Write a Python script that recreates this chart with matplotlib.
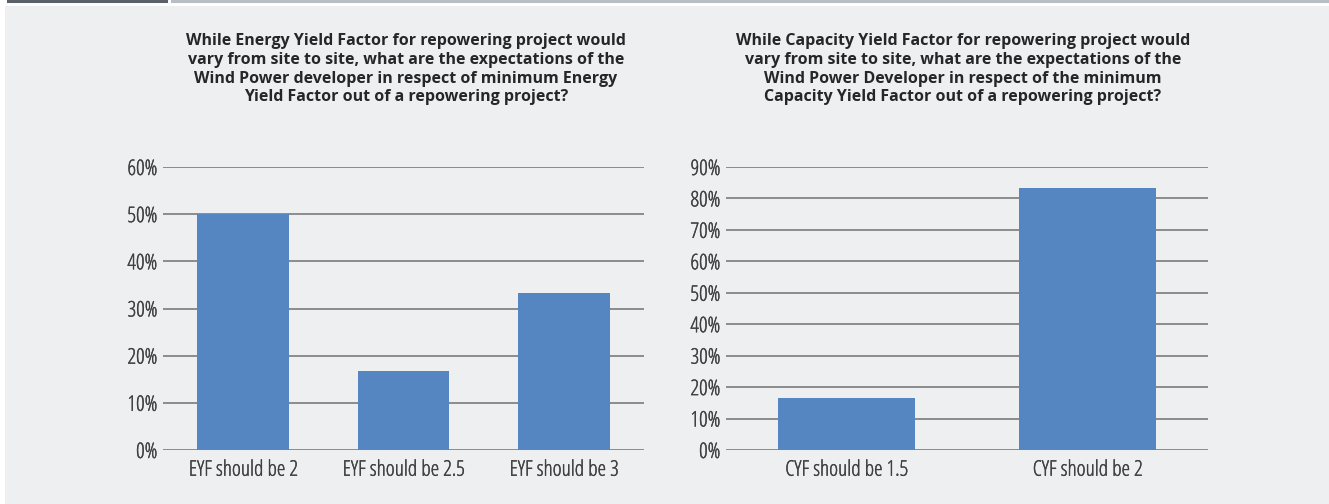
import matplotlib
matplotlib.use("Agg")
import matplotlib.pyplot as plt
import matplotlib.patheffects as pe
from matplotlib.patches import Rectangle
from matplotlib.lines import Line2D
from matplotlib.ticker import FuncFormatter

left_categories = ["EYF should be 2", "EYF should be 2.5", "EYF should be 3"]
left_values = [50.0, 16.67, 33.33]
left_ticks = [0, 10, 20, 30, 40, 50, 60]
left_title = ("While Energy Yield Factor for repowering project would\n"
              "vary from site to site, what are the expectations of the\n"
              "Wind Power developer in respect of minimum Energy\n"
              "Yield Factor out of a repowering project?")

right_categories = ["CYF should be 1.5", "CYF should be 2"]
right_values = [16.67, 83.33]
right_ticks = [0, 10, 20, 30, 40, 50, 60, 70, 80, 90]
right_title = ("While Capacity Yield Factor for repowering project would\n"
               "vary from site to site, what are the expectations of the\n"
               "Wind Power Developer in respect of the minimum\n"
               "Capacity Yield Factor out of a repowering project?")

W, H = 1329, 504
BG = "#eeeff1"
BAR = "#5686c2"
GRID = "#8c8c8c"
TXT = "#404040"

plt.rcParams["font.family"] = ["Open Sans", "DejaVu Sans"]

fig = plt.figure(figsize=(W / 100, H / 100), dpi=100)
fig.patch.set_facecolor("white")
fig.add_artist(Rectangle((5 / W, 0), 1 - 5 / W, 1 - 6 / H, transform=fig.transFigure,
                         facecolor=BG, edgecolor="none", zorder=0))
fig.add_artist(Line2D([8 / W, 166 / W], [1 - 1 / H, 1 - 1 / H], transform=fig.transFigure,
                      color="#5a6168", linewidth=2.2))
fig.add_artist(Line2D([172 / W, 1], [1 - 1 / H, 1 - 1 / H], transform=fig.transFigure,
                      color="#b9bec4", linewidth=2.2))

def px_axes(x0, x1, y_top, y_bot):
    return fig.add_axes([x0 / W, 1 - y_bot / H, (x1 - x0) / W, (y_bot - y_top) / H])

def draw(ax, cats, vals, ticks):
    ax.set_facecolor("none")
    x = list(range(len(cats)))
    ax.bar(x, vals, width=0.57, color=BAR, zorder=3)
    ax.set_xlim(-0.5, len(cats) - 0.5)
    ax.set_ylim(0, ticks[-1])
    ax.set_yticks(ticks)
    ax.yaxis.set_major_formatter(FuncFormatter(lambda v, p: f"{int(v)}%"))
    ax.set_xticks(x)
    ax.set_xticklabels(cats)
    for s in ax.spines.values():
        s.set_visible(False)
    ax.grid(axis="y", color=GRID, linewidth=1.4, zorder=1)
    ax.tick_params(axis="y", length=0, pad=4, labelsize=15.5, labelcolor=TXT)
    ax.tick_params(axis="x", length=0, pad=7, labelsize=15.5, labelcolor=TXT)
    for lbl in ax.get_xticklabels() + ax.get_yticklabels():
        lbl.set_fontstretch("condensed")
        lbl.set_path_effects([pe.withStroke(linewidth=0.25, foreground=TXT)])

ax1 = px_axes(163, 644, 167, 450)
draw(ax1, left_categories, left_values, left_ticks)
ax2 = px_axes(726, 1208, 167, 450)
draw(ax2, right_categories, right_values, right_ticks)

fig.text(406 / W, 1 - 33 / H, left_title, ha="center", va="top", fontsize=11.5,
         fontweight="bold", color="#262626", linespacing=1.23)
fig.text(963 / W, 1 - 33 / H, right_title, ha="center", va="top", fontsize=11.5,
         fontweight="bold", color="#262626", linespacing=1.23)

fig.savefig("out.png", dpi=100, facecolor=fig.get_facecolor())
